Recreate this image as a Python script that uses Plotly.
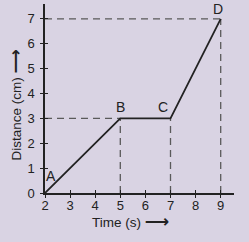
import plotly.graph_objects as go

time_s = [2, 5, 7, 9]
distance_cm = [0, 3, 3, 7]
point_labels = ["A", "B", "C", "D"]
x_ticks = [2, 3, 4, 5, 6, 7, 8, 9]
y_ticks = [0, 1, 2, 3, 4, 5, 6, 7]
x_title = "Time (s)"
y_title = "Distance (cm)"

bg = "rgb(217,211,227)"
ink = "#222222"
font = "Liberation Sans, Arial, sans-serif"
arrow = '<span style="font-size:17px;font-family:DejaVu Sans"><b>\u27f6</b></span>'

fig = go.Figure()

dash_style = dict(color="#5a5a5a", width=1.3, dash="7px,5px")
for i in (1, 2, 3):
    xi, yi = time_s[i], distance_cm[i]
    fig.add_trace(go.Scatter(x=[xi, xi], y=[0, yi], mode="lines", line=dash_style,
                             hoverinfo="skip", showlegend=False))
for i in (1, 3):
    xi, yi = time_s[i], distance_cm[i]
    fig.add_trace(go.Scatter(x=[time_s[0], xi], y=[yi, yi], mode="lines", line=dash_style,
                             hoverinfo="skip", showlegend=False))

fig.add_trace(go.Scatter(x=time_s, y=distance_cm, mode="lines",
                         line=dict(color=ink, width=1.8), showlegend=False))

offsets = [(0.25, 0.7), (0.0, 0.45), (-0.3, 0.45), (-0.1, 0.4)]
for (xi, yi, lab, (dx, dy)) in zip(time_s, distance_cm, point_labels, offsets):
    fig.add_annotation(x=xi + dx, y=yi + dy, text=lab, showarrow=False,
                       font=dict(family=font, size=14, color=ink))

# axis titles
fig.add_annotation(xref="paper", yref="paper", x=0.5, y=0, xanchor="center",
                   yanchor="middle", xshift=-9, yshift=-28, showarrow=False,
                   text=x_title + " " + arrow,
                   font=dict(family=font, size=13.5, color=ink))
fig.add_annotation(xref="paper", yref="paper", x=0, y=0.5, xanchor="center",
                   yanchor="middle", xshift=-31, yshift=-7, showarrow=False,
                   textangle=-90, text=y_title + " " + arrow,
                   font=dict(family=font, size=13.5, color=ink))

axis_common = dict(showgrid=False, zeroline=False, showline=True, linecolor=ink,
                   linewidth=1.5, ticks="outside", ticklen=3, tickwidth=1.3,
                   tickcolor=ink, tickfont=dict(family=font, size=13, color=ink))

fig.update_layout(
    width=249, height=242,
    margin=dict(l=45, r=15, t=4, b=49),
    paper_bgcolor=bg, plot_bgcolor=bg,
    xaxis=dict(range=[2, 9.53], tickvals=x_ticks, ticklabelstandoff=-3, **axis_common),
    yaxis=dict(range=[0, 7.6], tickvals=y_ticks, ticklabelstandoff=3, **axis_common),
    xaxis2=dict(range=[2, 9.53], overlaying="x", tickvals=x_ticks, ticks="inside",
                ticklen=3, tickwidth=1.3, tickcolor=ink, showticklabels=False,
                showgrid=False, zeroline=False, anchor="y"),
    yaxis2=dict(range=[0, 7.6], overlaying="y", tickvals=y_ticks, ticks="inside",
                ticklen=3, tickwidth=1.3, tickcolor=ink, showticklabels=False,
                showgrid=False, zeroline=False, anchor="x"),
)
fig.add_trace(go.Scatter(x=[2], y=[0], xaxis="x2", yaxis="y2", mode="markers",
                         marker=dict(opacity=0), hoverinfo="skip", showlegend=False))

fig.write_html("out.html")
